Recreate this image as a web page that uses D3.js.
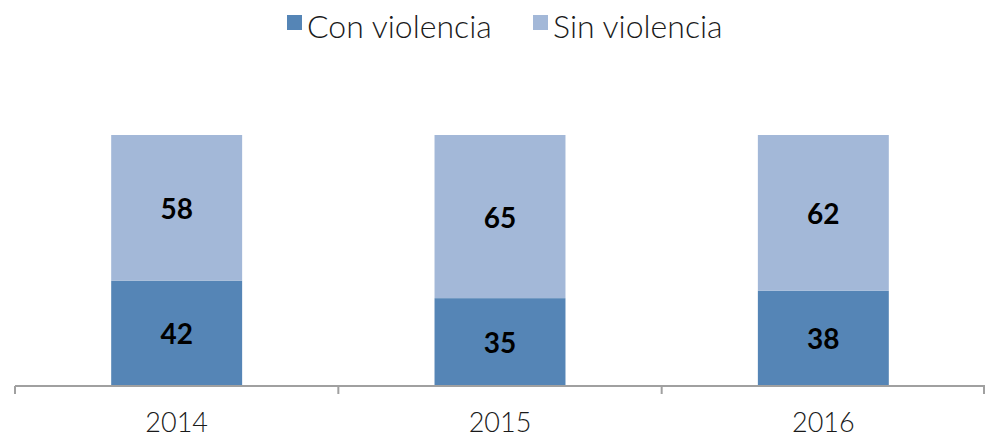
<!DOCTYPE html>
<html>
<head>
<meta charset="utf-8">
<script src="https://cdn.jsdelivr.net/npm/d3@7"></script>
<style>
  body { margin: 0; background: #fff; }
  text { font-family: Lato, "Open Sans", sans-serif; }
</style>
</head>
<body>
<div id="container"></div>
<script>
/* CONSTANTS AND GLOBALS */
const width = 985,
  height = 437,
  margin = { top: 135, bottom: 51, left: 15, right: 0 };

/* DATA */
const years = ["2014", "2015", "2016"];
const conViolencia = [42, 35, 38];
const sinViolencia = [58, 65, 62];
const seriesNames = ["Con violencia", "Sin violencia"];
const colors = ["#5585b6", "#a3b8d8"];

const data = years.map((y, i) => ({ year: y, con: conViolencia[i], sin: sinViolencia[i] }));
const stack = d3.stack().keys(["con", "sin"])(data);

/* SCALES */
const xScale = d3.scaleBand()
  .domain(years)
  .range([margin.left, width - margin.right]);

const yScale = d3.scaleLinear()
  .domain([0, 100])
  .range([height - margin.bottom, margin.top]);

const barW = xScale.bandwidth() * 0.405;

/* SVG */
const svg = d3.select("#container")
  .append("svg")
  .attr("width", width)
  .attr("height", height);

// bars
const layer = svg.selectAll("g.layer")
  .data(stack)
  .join("g")
  .attr("class", "layer")
  .attr("fill", (d, i) => colors[i]);

layer.selectAll("rect")
  .data(d => d)
  .join("rect")
  .attr("x", d => xScale(d.data.year) + xScale.bandwidth() / 2 - barW / 2)
  .attr("width", barW)
  .attr("y", d => yScale(d[1]))
  .attr("height", d => yScale(d[0]) - yScale(d[1]));

// value labels
layer.selectAll("text")
  .data(d => d.map(v => ({ v, val: v[1] - v[0] })))
  .join("text")
  .attr("x", d => xScale(d.v.data.year) + xScale.bandwidth() / 2)
  .attr("y", d => (yScale(d.v[0]) + yScale(d.v[1])) / 2 + 11)
  .attr("text-anchor", "middle")
  .attr("fill", "#000")
  .style("font-size", "28px")
  .style("font-weight", "bold")
  .text(d => d.val);

// x axis
const axis = svg.append("g")
  .attr("transform", `translate(0,${height - margin.bottom})`);

axis.append("line")
  .attr("x1", margin.left).attr("x2", width)
  .attr("stroke", "#a0a0a0").attr("stroke-width", 2);

const tickPos = years.map(y => xScale(y)).concat([xScale(years[2]) + xScale.step()]);
axis.selectAll("line.tick")
  .data(tickPos)
  .join("line")
  .attr("class", "tick")
  .attr("x1", d => Math.min(d, width - 1)).attr("x2", d => Math.min(d, width - 1))
  .attr("y1", 0).attr("y2", 8)
  .attr("stroke", "#a0a0a0").attr("stroke-width", 2);

axis.selectAll("text")
  .data(years)
  .join("text")
  .attr("x", d => xScale(d) + xScale.bandwidth() / 2)
  .attr("y", 46)
  .attr("text-anchor", "middle")
  .attr("fill", "#1a1a1a")
  .style("font-size", "27px")
  .style("font-weight", 300)
  .text(d => d);

// legend
const legendX = [287, 533];
const legend = svg.selectAll("g.legend")
  .data(seriesNames)
  .join("g")
  .attr("class", "legend")
  .attr("transform", (d, i) => `translate(${legendX[i]},15)`);

legend.append("rect")
  .attr("width", 15).attr("height", 15)
  .attr("fill", (d, i) => colors[i]);

legend.append("text")
  .attr("x", 20).attr("y", 23)
  .attr("fill", "#1a1a1a")
  .style("font-size", "32px")
  .style("font-weight", 300)
  .text(d => d);
</script>
</body>
</html>
